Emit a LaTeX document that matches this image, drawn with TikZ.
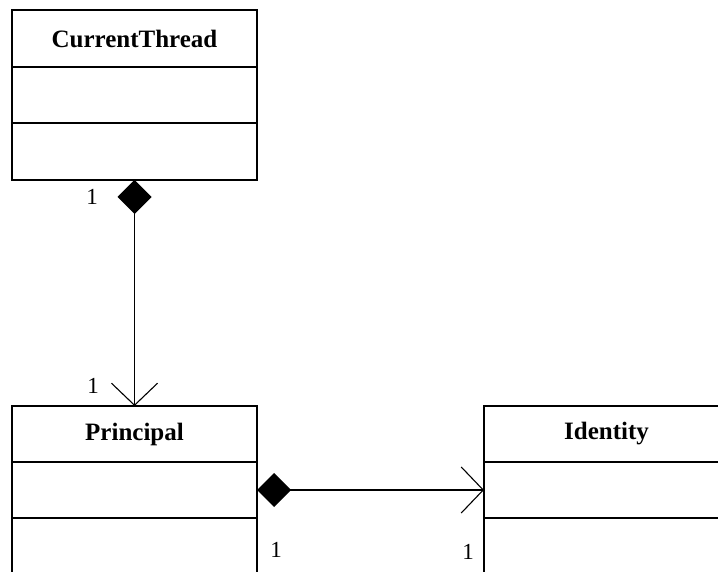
\documentclass[tikz,border=0pt]{standalone}
\usepackage{fontspec}
\setmainfont{Liberation Serif}
\usetikzlibrary{arrows.meta}
\begin{document}
\begin{tikzpicture}[x=1pt,y=-1pt,
  part/.style={draw, line width=1.6pt, minimum width=245pt, inner sep=0pt, outer sep=0pt, anchor=north west},
  below/.style={anchor=north},
  namefont/.style={font=\fontsize{25}{29}\selectfont\bfseries},
  mult/.style={font=\fontsize{23}{27}\selectfont, inner sep=0pt},
  conn/.style={line width=1.7pt},
  comp/.style={{Diamond[length=34pt,width=34pt]}-{Straight Barb[length=22pt,width=46pt,line width=1.1pt]}}
]
\useasboundingbox (0,0) rectangle (718,572);
\clip (0,0) rectangle (718,572);
% CurrentThread
\node[part, namefont, minimum height=57pt] (ct-head) at (12,10) {CurrentThread};
\node[part, below, minimum height=56pt] (ct-attr) at (ct-head.south) {};
\node[part, below, minimum height=57pt] (ct-ops) at (ct-attr.south) {};
% Principal
\node[part, namefont, minimum height=56pt] (pr-head) at (12,406) {Principal};
\node[part, below, minimum height=56pt] (pr-attr) at (pr-head.south) {};
\node[part, below, minimum height=70pt] (pr-ops) at (pr-attr.south) {};
% Identity
\node[part, namefont, minimum height=56pt] (id-head) at (484,406) {Identity};
\node[part, below, minimum height=56pt] (id-attr) at (id-head.south) {};
\node[part, below, minimum height=70pt] (id-ops) at (id-attr.south) {};
% connectors
\draw[conn, comp] (ct-ops.south) -- (pr-head.north);
\draw[conn, comp] (pr-attr.east) -- (id-attr.west);
% multiplicities
\node[mult] (m1) at (92,197) {1};
\node[mult] (m2) at (93,386) {1};
\node[mult] (m3) at (276,550) {1};
\node[mult] (m4) at (468,552) {1};
\end{tikzpicture}
\end{document}
